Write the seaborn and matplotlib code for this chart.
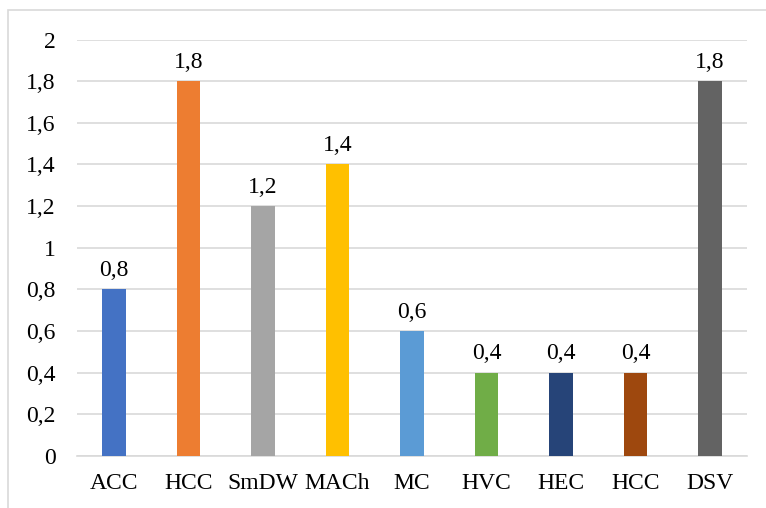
import matplotlib
matplotlib.use("Agg")
import matplotlib.pyplot as plt
import seaborn as sns
import pandas as pd
from matplotlib.patches import Rectangle

categories = ["ACC", "HCC", "SmDW", "MACh", "MC", "HVC", "HEC", "HCC ", "DSV"]
values = [0.8, 1.8, 1.2, 1.4, 0.6, 0.4, 0.4, 0.4, 1.8]
colors = ["#4472C4", "#ED7D31", "#A5A5A5", "#FFC000", "#5B9BD5",
          "#70AD47", "#264478", "#9E480E", "#636363"]
yticks = [0, 0.2, 0.4, 0.6, 0.8, 1.0, 1.2, 1.4, 1.6, 1.8, 2.0]

sns.set_theme(style="white")
plt.rcParams['font.family'] = ['Liberation Serif', 'DejaVu Serif']

df = pd.DataFrame({"cat": categories, "val": values})

FS = 17

fig = plt.figure(figsize=(7.66, 5.08), dpi=100)
ax = fig.add_axes([76.75/766, 1 - 456/508, (747.25 - 76.75)/766, (456 - 39.5)/508])

sns.barplot(data=df, x="cat", y="val", hue="cat", palette=colors, legend=False,
            width=0.32, ax=ax, saturation=1, zorder=3, linewidth=0, edgecolor="none")

ax.set_ylim(0, 2)
ax.set_xlim(-0.5, len(categories) - 0.5)
ax.set_yticks(yticks)
ax.set_yticklabels([("%g" % t).replace(".", ",") for t in yticks], fontsize=FS, color="black")
ax.set_xticks(range(len(categories)))
ax.set_xticklabels([c.strip() for c in categories], fontsize=FS, color="black")
ax.tick_params(axis="y", length=0, pad=15)
ax.tick_params(axis="x", length=0, pad=12)
ax.set_xlabel("")
ax.set_ylabel("")
ax.grid(axis="y", color="#d9d9d9", linewidth=1.2, zorder=0)
ax.set_axisbelow(True)
for s in ["top", "right", "left"]:
    ax.spines[s].set_visible(False)
ax.spines["bottom"].set_color("#d9d9d9")
ax.spines["bottom"].set_linewidth(1.2)

for cont in ax.containers:
    labels = [("%g" % v).replace(".", ",") for v in cont.datavalues]
    ax.bar_label(cont, labels=labels, padding=6, fontsize=FS, color="black")

border = Rectangle((8/766, -0.1), 1.2, 1 - 10/508 + 0.1, transform=fig.transFigure,
                   fill=False, edgecolor="#d9d9d9", linewidth=1.2, clip_on=False)
fig.patches.append(border)

fig.savefig("out.png", dpi=100)
